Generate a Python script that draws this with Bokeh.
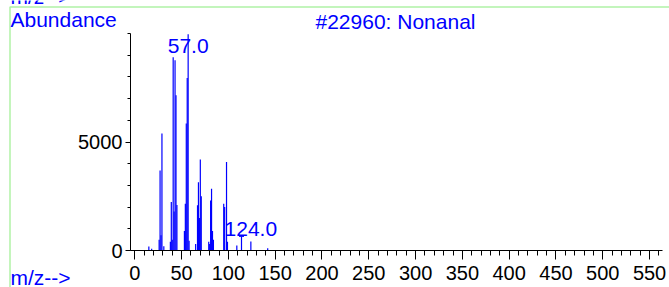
from bokeh.plotting import figure
from bokeh.models import Range1d, FixedTicker, Label, ColumnDataSource, BoxAnnotation
from bokeh.embed import file_html
from bokeh.resources import INLINE

# ---- data ----
mz = [15, 18, 26, 27, 28, 29, 31, 38, 39, 40, 41, 42, 43, 44, 45,
      53, 54, 55, 56, 57, 58, 65, 67, 68, 69, 70, 71, 79, 80, 81, 82, 83, 84,
      95, 96, 98, 99, 109, 114, 124, 142]
abundance = [180, 80, 500, 3690, 700, 5390, 200, 400, 2230, 500, 8900, 1800, 8770, 7160, 2100,
             900, 2150, 5850, 7950, 9970, 450, 300, 2080, 3150, 1500, 4190, 2500, 400, 300, 2300, 2850, 900, 500,
             2150, 2000, 4080, 400, 230, 650, 415, 100]
label_mz = [57, 124]
marker_mz = 114
x_ticks = list(range(0, 551, 50))
x_minor = list(range(0, 561, 10))
y_ticks = [0, 5000]
y_minor = list(range(0, 10001, 1000))
title_text = "#22960: Nonanal"
y_label = "Abundance"
x_label = "m/z-->"

BLUE = "#0000ff"
GREEN = "#b0f2a6"
FONT = "Liberation Sans"

X_AXIS_BOUNDS = (-4.6, 563.8)
Y_AXIS_BOUNDS = (0, 10000)

p = figure(width=669, height=287, output_backend="svg", toolbar_location=None,
           x_range=Range1d(-143.5, 571.3), y_range=Range1d(-1705, 11521),
           min_border=0, min_border_left=0, min_border_right=0,
           min_border_top=0, min_border_bottom=0)
p.title.visible = False
p.outline_line_color = None
p.xgrid.visible = False
p.ygrid.visible = False
p.background_fill_color = "white"
p.border_fill_color = "white"

# pale green frame of the original window (top and left edges)
p.add_layout(BoxAnnotation(left=9.5, right=700, top=280.5, bottom=-20,
                           left_units="screen", right_units="screen",
                           top_units="screen", bottom_units="screen",
                           fill_alpha=0, line_color=GREEN, line_alpha=1.0, line_width=1.5))

src = ColumnDataSource(dict(mz=mz, ab=abundance, base=[0] * len(mz)))
p.segment(x0="mz", y0="base", x1="mz", y1="ab", source=src, line_color=BLUE, line_width=1.2)

mi = mz.index(marker_mz)
p.scatter(x=[mz[mi]], y=[abundance[mi]], marker="dash", size=5, line_color=BLUE, line_width=1)

offsets = {57: -11.5, 124: 12.5}
for m in label_mz:
    p.add_layout(Label(x=m, y=abundance[mz.index(m)], text=f"{m:.1f}", text_align="center",
                       y_offset=offsets[m], text_color=BLUE, text_font=FONT,
                       text_font_size="21px", text_baseline="alphabetic"))

for axis in (p.xaxis[0], p.yaxis[0]):
    axis.axis_line_color = "black"
    axis.major_tick_line_color = "black"
    axis.minor_tick_line_color = "black"
    axis.major_label_text_font = FONT
    axis.major_label_text_font_size = "20px"
    axis.major_label_text_color = "black"
    axis.major_tick_in = 0
    axis.minor_tick_in = 0

p.xaxis.ticker = FixedTicker(ticks=x_ticks, minor_ticks=x_minor)
p.xaxis.bounds = X_AXIS_BOUNDS
p.xaxis.fixed_location = Y_AXIS_BOUNDS[0]
p.xaxis.major_tick_out = 9
p.xaxis.minor_tick_out = 5
p.xaxis.major_label_standoff = 6

p.yaxis.ticker = FixedTicker(ticks=y_ticks, minor_ticks=y_minor)
p.yaxis.bounds = Y_AXIS_BOUNDS
p.yaxis.fixed_location = X_AXIS_BOUNDS[0]
p.yaxis.major_tick_out = 5
p.yaxis.minor_tick_out = 3
p.yaxis.major_label_standoff = 3

# texts positioned in screen units (frame covers the whole canvas)
for txt, x, y in [(x_label, 10, 291.5), (y_label, 10, 268.5), (title_text, 315, 266),
                  (x_label, 10, 10.5)]:
    p.add_layout(Label(x=x, y=y, x_units="screen", y_units="screen", text=txt,
                       text_color=BLUE, text_font=FONT, text_font_size="21px",
                       text_baseline="alphabetic"))

open("out.html", "w").write(file_html(p, INLINE))
